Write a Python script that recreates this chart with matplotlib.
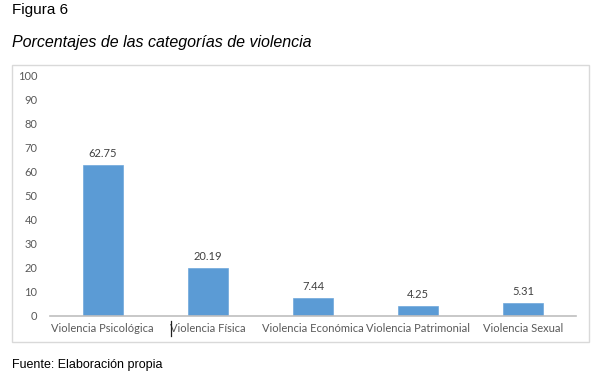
import matplotlib
matplotlib.use("Agg")
import matplotlib.pyplot as plt
from matplotlib.patches import Rectangle
from matplotlib.lines import Line2D

categorias = ['Violencia Psicológica', 'Violencia Física', 'Violencia Económica',
              'Violencia Patrimonial', 'Violencia Sexual']
porcentajes = [62.75, 20.19, 7.44, 4.25, 5.31]
etiquetas = ['62.75', '20.19', '7.44', '4.25', '5.31']
yticks = list(range(0, 101, 10))

W, H = 608, 380
fig = plt.figure(figsize=(W / 100, H / 100), dpi=100)

# marco gris alrededor del grafico
fig.patches.append(Rectangle((12 / W, 1 - 342 / H), (589 - 12) / W, (342 - 65) / H,
                             transform=fig.transFigure, fill=False,
                             edgecolor='#d9d9d9', linewidth=1.0))

ax = fig.add_axes([50 / W, 1 - 316 / H, (576 - 50) / W, (316 - 76) / H])
x = list(range(len(categorias)))
ax.bar(x, porcentajes, width=0.38, color='#5b9bd5', edgecolor='#6fa8dc', linewidth=0.5)
for xi, v, t in zip(x, porcentajes, etiquetas):
    ax.text(xi, v + 2.5, t, ha='center', va='bottom', fontsize=8,
            color='#404040', family='Lato')

ax.set_xlim(-0.5, 4.5)
ax.set_ylim(0, 100)
ax.set_yticks(yticks)
ax.set_xticks(x)
ax.set_xticklabels(categorias)
for s in ['top', 'right', 'left']:
    ax.spines[s].set_visible(False)
ax.spines['bottom'].set_color('#bfbfbf')
ax.spines['bottom'].set_linewidth(1.2)
ax.tick_params(axis='both', length=0, labelsize=8, labelcolor='#595959')
ax.tick_params(axis='y', pad=9)
ax.tick_params(axis='x', pad=5)
for lab in ax.get_xticklabels() + ax.get_yticklabels():
    lab.set_family('Lato')

# cursor de texto delante de "Violencia Fisica"
fig.add_artist(Line2D([171 / W, 171 / W], [1 - 336 / H, 1 - 321 / H],
                      color='#202020', linewidth=0.9))

fig.text(12 / W, 1 - 10 / H, 'Figura 6', fontsize=11, family='Liberation Sans',
         va='center', ha='left', color='black')
fig.text(12 / W, 1 - 42 / H, 'Porcentajes de las categorías de violencia', fontsize=11.5,
         family='Liberation Sans', style='italic', va='center', ha='left', color='black')
fig.text(12 / W, 1 - 365 / H, 'Fuente: Elaboración propia', fontsize=9,
         family='Liberation Sans', va='center', ha='left', color='black')

fig.savefig('out.png', dpi=100)
